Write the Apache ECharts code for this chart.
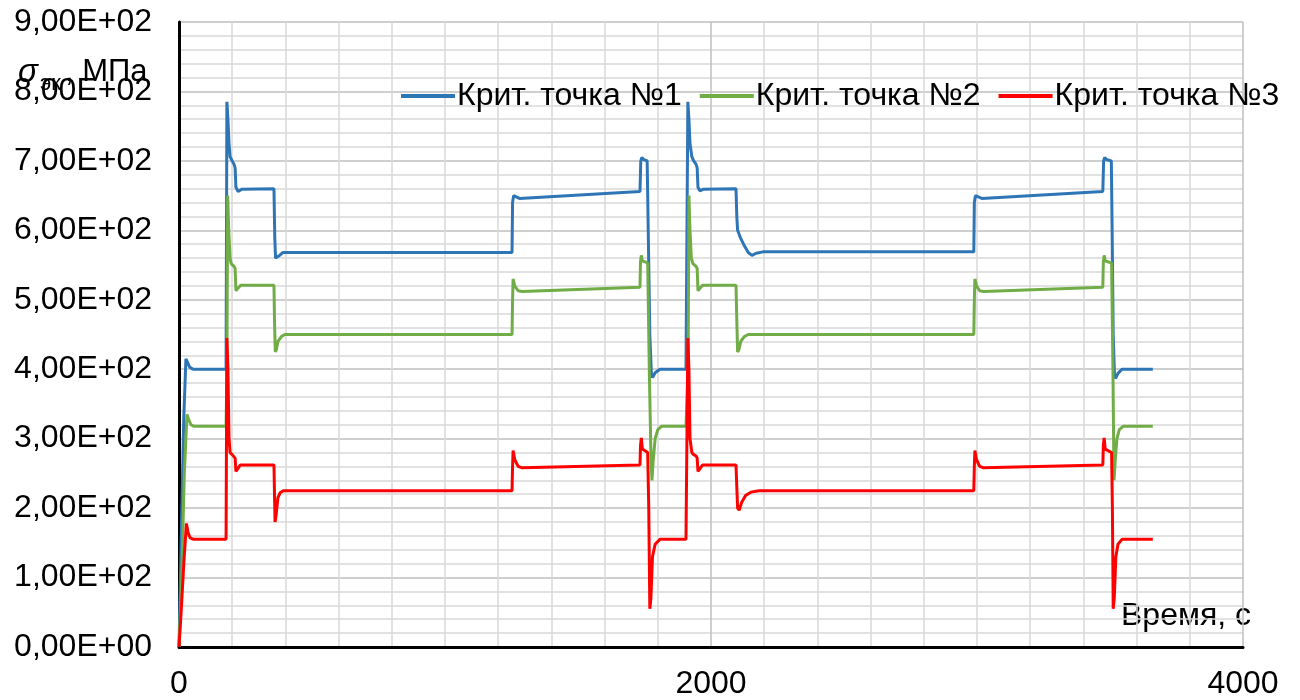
<!DOCTYPE html>
<html><head><meta charset="utf-8">
<script src="https://cdn.jsdelivr.net/npm/echarts@6/dist/echarts.min.js"></script>
<style>html,body{margin:0;padding:0;background:#fff}#c{width:1300px;height:700px}</style>
</head><body><div id="c"></div>
<script>
// [time, stress] pairs
const point1 = [[0,0],[8,150],[18,330],[26,415],[32,410],[40,403],[53,400],[177,400],
[180,785],[184,760],[188,725],[192,706],[200,700],[207,695],[211,690],[214,662],[222,656],[235,659],[357,660],
[360,590],[363,560],[368,558],[375,563],[390,568],[1252,568],
[1254,640],[1258,650],[1265,648],[1280,646],[1733,656],
[1736,700],[1740,705],[1746,702],[1760,700],[1764,600],[1770,450],[1776,392],[1780,388],[1790,395],[1808,400],[1906,400],
[1913,785],[1917,760],[1921,725],[1928,706],[1935,700],[1944,695],[1948,690],[1951,662],[1958,657],[1970,659],[2094,660],
[2097,620],[2100,600],[2110,590],[2125,578],[2140,568],[2154,564],[2170,567],[2195,569],[2988,569],
[2990,640],[2994,650],[3001,648],[3018,646],[3473,656],
[3476,700],[3480,705],[3486,702],[3505,700],[3508,600],[3512,450],[3517,390],[3521,387],[3530,394],[3545,400],[3661,400]];

const point2 = [[0,0],[10,100],[20,250],[30,335],[36,328],[45,320],[55,318],[177,318],
[180,400],[183,650],[187,600],[192,560],[196,552],[207,548],[211,545],[214,513],[220,516],[232,521],[357,521],
[359,470],[362,425],[366,428],[372,440],[385,447],[398,450],[1252,450],
[1254,500],[1256,530],[1262,520],[1275,513],[1290,512],[1733,518],
[1735,555],[1738,564],[1742,556],[1762,553],[1768,400],[1774,280],[1778,240],[1783,270],[1790,300],[1800,313],[1815,318],[1906,318],
[1914,400],[1917,650],[1921,600],[1926,560],[1932,552],[1944,548],[1948,545],[1951,513],[1957,516],[1968,521],[2094,521],
[2097,470],[2100,425],[2105,428],[2112,440],[2125,447],[2140,450],[2988,450],
[2990,500],[2992,530],[2998,520],[3010,513],[3025,512],[3473,518],
[3475,555],[3478,564],[3482,556],[3506,553],[3511,400],[3515,240],[3520,270],[3526,300],[3535,313],[3550,318],[3661,318]];

const point3 = [[0,0],[8,50],[18,120],[28,178],[34,165],[42,157],[55,155],[177,155],
[180,445],[184,400],[188,300],[192,280],[200,277],[207,275],[211,272],[214,253],[220,255],[230,262],[357,262],
[359,220],[361,180],[365,190],[372,215],[380,222],[392,225],[1252,225],
[1254,260],[1256,283],[1262,270],[1275,260],[1290,258],[1733,262],
[1735,290],[1738,301],[1742,285],[1762,280],[1766,200],[1770,55],[1774,70],[1780,130],[1790,148],[1808,155],[1906,155],
[1913,445],[1917,400],[1921,300],[1928,280],[1935,277],[1944,275],[1948,272],[1951,253],[1957,255],[1968,262],[2094,262],
[2097,230],[2100,200],[2106,197],[2115,208],[2130,218],[2150,223],[2180,225],[2988,225],
[2990,260],[2992,283],[2998,270],[3010,260],[3025,258],[3473,262],
[3475,290],[3478,301],[3482,285],[3506,280],[3509,200],[3512,55],[3516,70],[3522,130],[3530,148],[3545,155],[3661,155]];

const seriesNames = ['Крит. точка №1','Крит. точка №2','Крит. точка №3'];
const seriesColors = ['#2e75b6','#70ad47','#ff0000'];
const xTicks = [0, 2000, 4000];

const font = 'Arial, "Liberation Sans", sans-serif';
const chart = echarts.init(document.getElementById('c'));
const mk = (name, data, color) => ({
  name, type:'line', data, symbol:'none', showSymbol:false, smooth:false,
  lineStyle:{color, width:3}, itemStyle:{color}, animation:false
});
chart.setOption({
  animation:false,
  backgroundColor:'#ffffff',
  grid:{left:179, right:57, top:22, bottom:52, containLabel:false},
  legend:{
    left:401, top:80, itemWidth:54, itemHeight:4, itemGap:18, padding:0,
    icon:'rect',
    textStyle:{fontSize:32, color:'#000', fontFamily:font, padding:[0,0,0,-3]},
    data:seriesNames
  },
  xAxis:{
    type:'value', min:0, max:4000, interval:2000,
    axisLine:{show:true, onZero:false, lineStyle:{color:'#000', width:3}},
    axisTick:{show:false},
    axisLabel:{fontSize:32, color:'#000', fontFamily:font, margin:21,
      formatter:v => xTicks.includes(v) ? String(v) : ''},
    splitLine:{show:true, lineStyle:{color:'#bfbfbf', width:1.5}},
    minorTick:{show:false, splitNumber:10},
    minorSplitLine:{show:true, lineStyle:{color:'#d9d9d9', width:1.5}}
  },
  yAxis:{
    type:'value', min:0, max:900, interval:100,
    axisLine:{show:true, lineStyle:{color:'#000', width:3}},
    axisTick:{show:false},
    axisLabel:{fontSize:32, color:'#000', fontFamily:font, margin:27,
      formatter:v => v === 0 ? '0,00E+00' : (v/100).toFixed(2).replace('.',',') + 'E+02'},
    splitLine:{show:true, lineStyle:{color:'#bfbfbf', width:1.5}},
    minorTick:{show:false, splitNumber:5},
    minorSplitLine:{show:true, lineStyle:{color:'#d9d9d9', width:1.5}}
  },
  graphic:[
    {type:'text', left:18, top:56, style:{text:'σ', font:'italic 33px '+font, fill:'#000'}},
    {type:'text', left:40, top:73, style:{text:'эк', font:'22px '+font, fill:'#000'}},
    {type:'text', left:65, top:57, style:{text:', МПа', font:'31px '+font, fill:'#000'}},
    {type:'text', left:1121, top:600, style:{text:'Время, с', font:'32px '+font, fill:'#000'}}
  ],
  series:[
    mk(seriesNames[0], point1, seriesColors[0]),
    mk(seriesNames[1], point2, seriesColors[1]),
    mk(seriesNames[2], point3, seriesColors[2])
  ]
});
</script></body></html>
